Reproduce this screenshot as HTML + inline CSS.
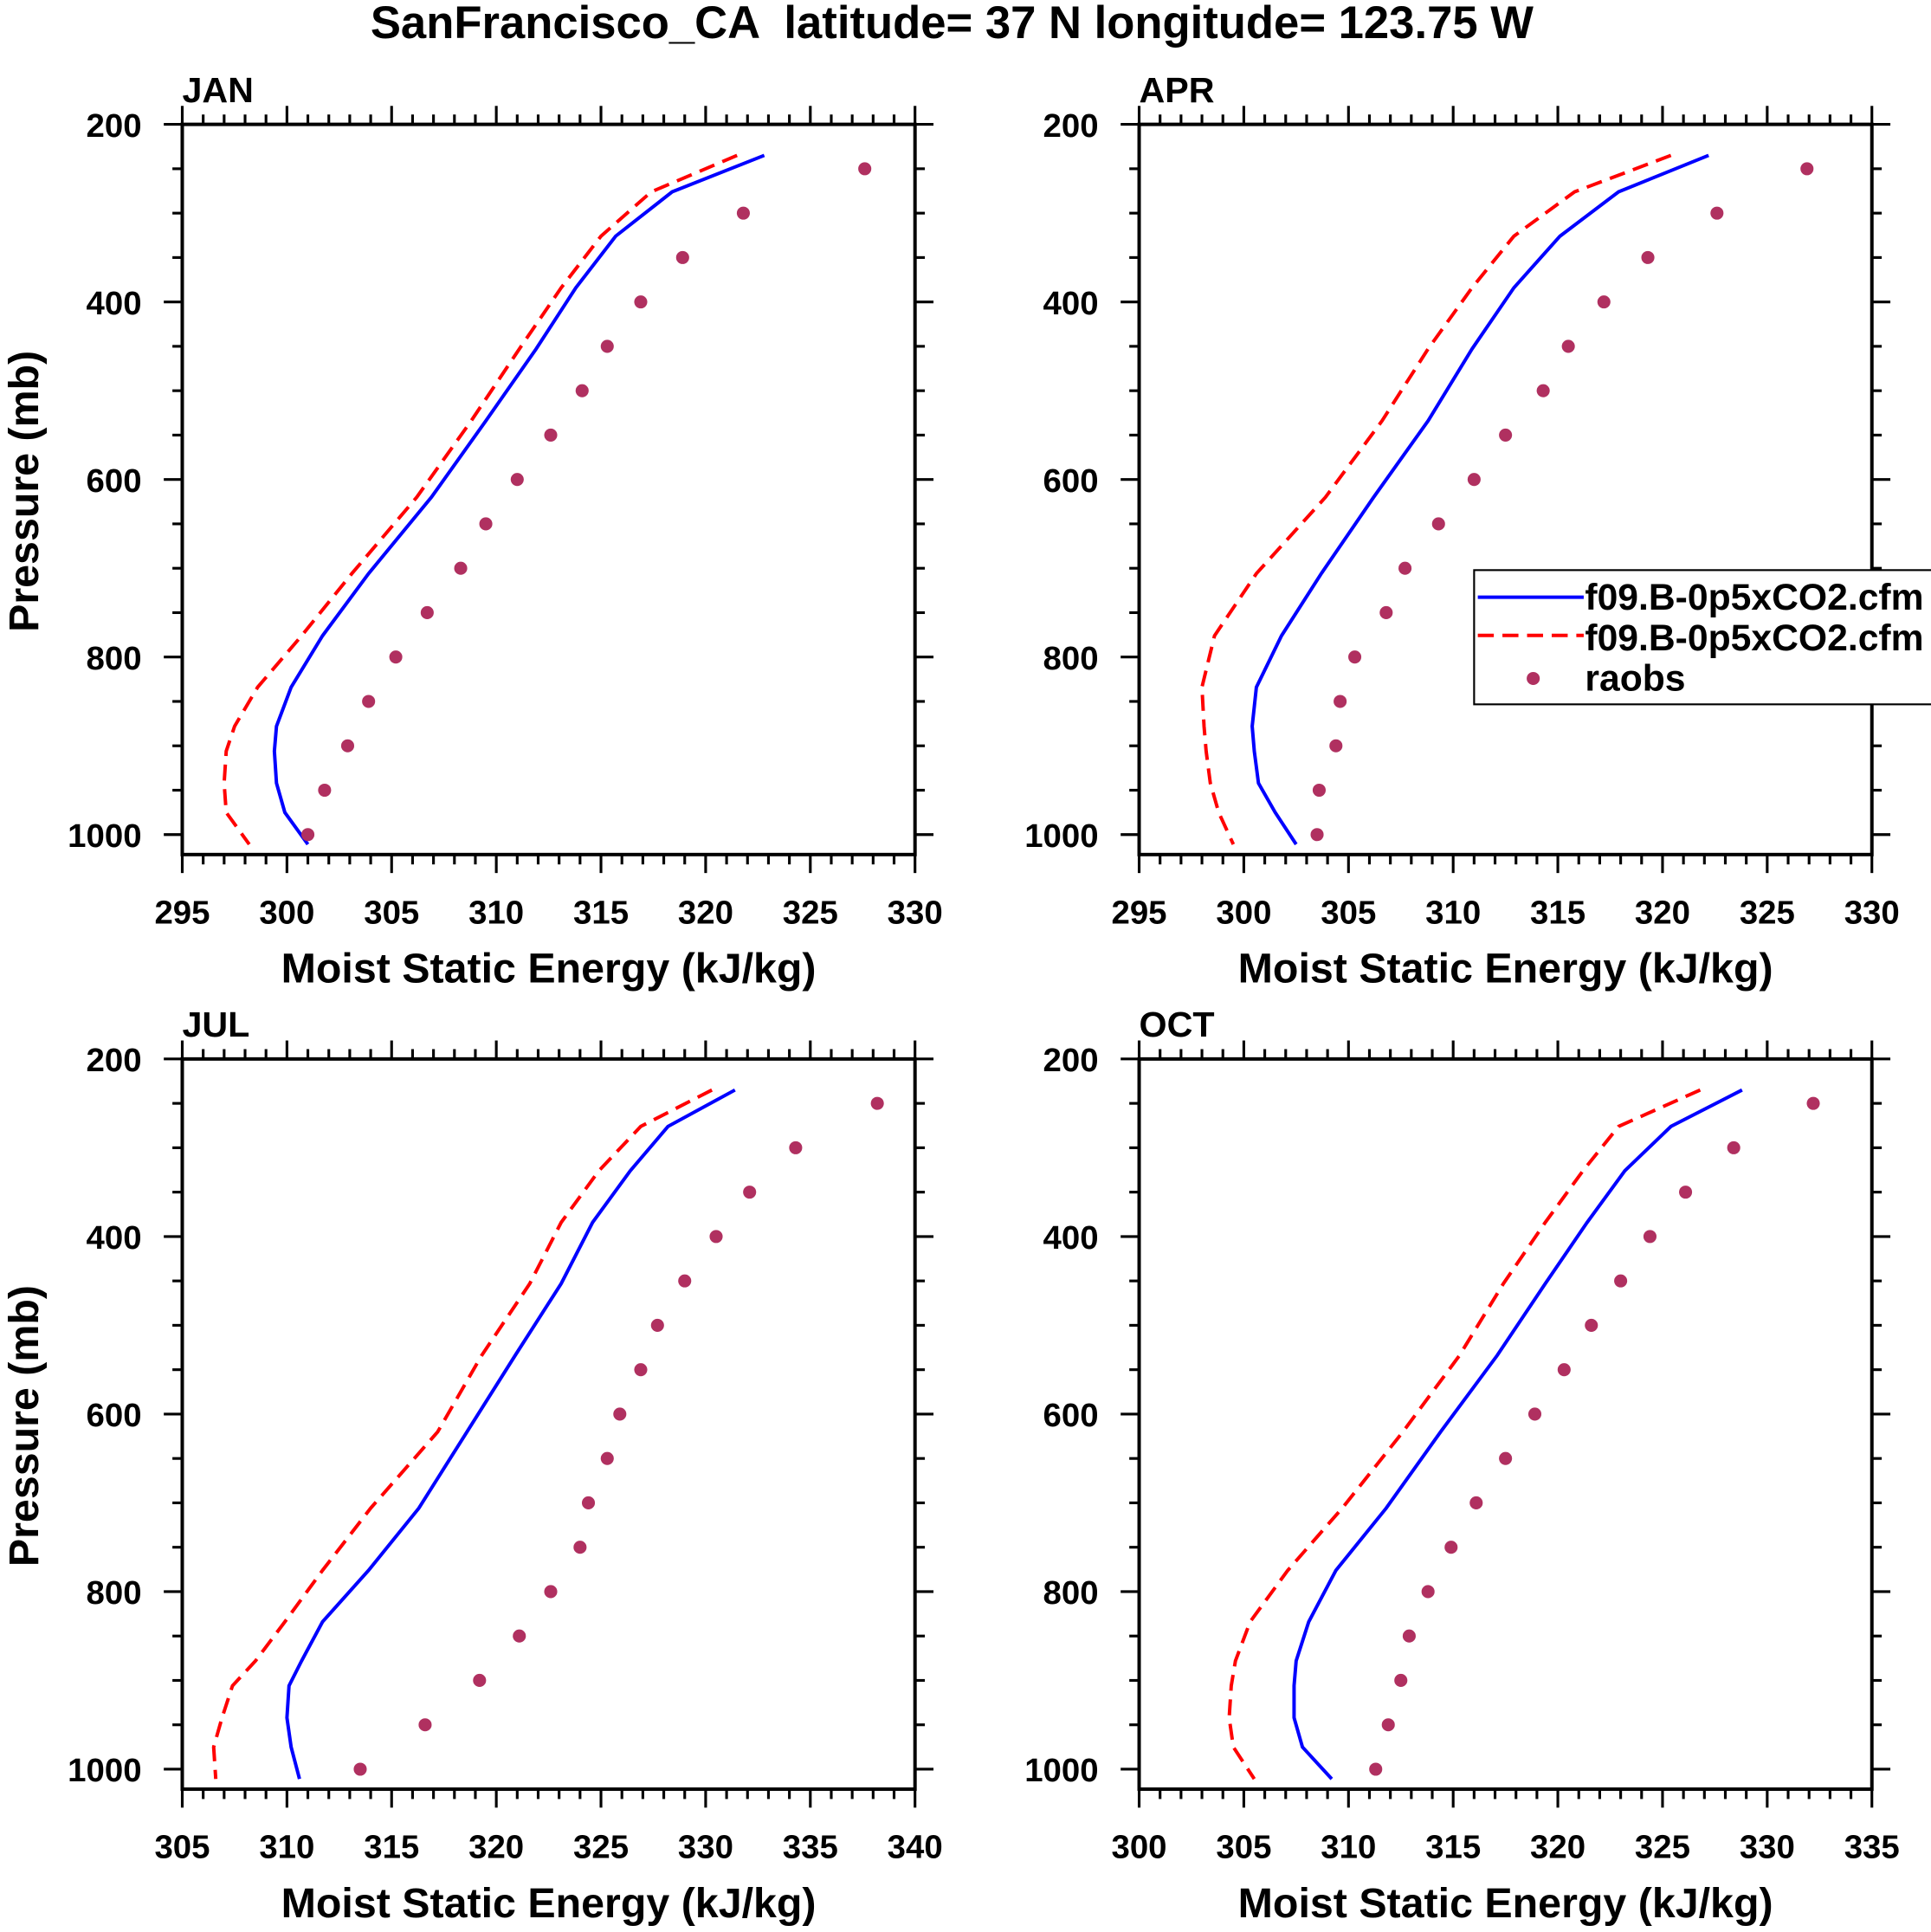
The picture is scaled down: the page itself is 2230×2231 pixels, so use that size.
<!DOCTYPE html>
<html><head><meta charset="utf-8"><style>
html,body{margin:0;padding:0;background:#fff;}
svg{display:block;}
text{font-family:"Liberation Sans",Helvetica,sans-serif;font-weight:bold;fill:#000;}
</style></head><body>
<svg id="chart" width="2230" height="2231" viewBox="0 0 1568 1569" preserveAspectRatio="none" xmlns="http://www.w3.org/2000/svg">
<text x="773" y="31" font-size="37" text-anchor="middle" xml:space="preserve">SanFrancisco_CA  latitude= 37 N longitude= 123.75 W</text>
<g id="plots"></g>
</svg>
<script>
// Data
const modelLevels = [235,276,326,384,453,534,620,706,776,834,878,906,942,975,1011];
const obsLevels = [250,300,350,400,450,500,550,600,650,700,750,800,850,900,950,1000];
const panelNames = ["JAN","APR","JUL","OCT"];
const xMins = [295,295,305,300];
const xMaxs = [330,330,340,335];
const blueJAN = [322.8,318.4,315.7,313.8,311.9,309.5,306.9,303.9,301.7,300.2,299.5,299.4,299.5,299.9,301.0];
const redJAN  = [321.5,317.4,315.0,313.1,311.1,308.8,306.2,303.1,300.7,298.6,297.5,297.1,297.0,297.1,298.2];
const obsJAN  = [327.6,321.8,318.9,316.9,315.3,314.1,312.6,311.0,309.5,308.3,306.7,305.2,303.9,302.9,301.8,301.0];
const blueAPR = [322.2,317.9,315.1,312.9,310.9,308.8,306.2,303.7,301.8,300.6,300.4,300.5,300.7,301.5,302.5];
const redAPR  = [320.4,315.8,312.9,310.9,308.8,306.6,303.9,300.6,298.6,298.0,298.1,298.2,298.4,298.8,299.5];
const obsAPR  = [326.9,322.6,319.3,317.2,315.5,314.3,312.5,311.0,309.3,307.7,306.8,305.3,304.6,304.4,303.6,303.5];
const blueJUL = [331.4,328.2,326.4,324.6,323.1,320.9,318.6,316.3,313.9,311.7,310.7,310.1,310.0,310.2,310.6];
const redJUL  = [330.3,326.9,324.9,323.1,321.6,319.3,317.2,314.0,311.7,309.9,308.5,307.4,306.9,306.5,306.6];
const obsJUL  = [338.2,334.3,332.1,330.5,329.0,327.7,326.9,325.9,325.3,324.4,324.0,322.6,321.1,319.2,316.6,313.5];
const blueOCT = [328.8,325.4,323.2,321.4,319.4,317.1,314.4,311.8,309.4,308.1,307.5,307.4,307.4,307.8,309.2];
const redOCT  = [326.8,322.9,321.2,319.4,317.4,315.3,312.6,309.7,307.1,305.3,304.6,304.4,304.3,304.5,305.5];
const obsOCT  = [332.2,328.4,326.1,324.4,323.0,321.6,320.3,318.9,317.5,316.1,314.9,313.8,312.9,312.5,311.9,311.3];
const yTicks = [200,400,600,800,1000];
const legendLabels = ["f09.B-0p5xCO2.cfm","f09.B-0p5xCO2.cfm","raobs"];

const blues=[blueJAN,blueAPR,blueJUL,blueOCT], reds=[redJAN,redAPR,redJUL,redOCT], obss=[obsJAN,obsAPR,obsJUL,obsOCT];
const NS="http://www.w3.org/2000/svg";
const root=document.getElementById("plots");
function mk(tag,attrs,parent){const e=document.createElementNS(NS,tag);for(const k in attrs)e.setAttribute(k,attrs[k]);(parent||root).appendChild(e);return e;}
const W=595,H=593,PMIN=200,PMAX=1022.5;
const origins=[[148,101],[925,101],[148,860],[925,860]];
panelNames.forEach((name,i)=>{
  const [ox,oy]=origins[i];
  const g=mk("g",{});
  
  
  const xs=v=>ox+(v-xMins[i])/(xMaxs[i]-xMins[i])*W;
  const ys=p=>oy+(p-PMIN)/(PMAX-PMIN)*H;
  for(let v=xMins[i];v<=xMaxs[i];v++){
    const maj=(v%5===0), L=maj?15:8;
    mk("line",{x1:xs(v),x2:xs(v),y1:oy+H,y2:oy+H+L,stroke:"#000","stroke-width":2.2},g);
    mk("line",{x1:xs(v),x2:xs(v),y1:oy,y2:oy-L,stroke:"#000","stroke-width":2.2},g);
    if(maj){const t=mk("text",{x:xs(v),y:oy+H+56,"font-size":27,"text-anchor":"middle"},g);t.textContent=v;
      }
  }
  for(let p=200;p<=1000;p+=50){
    const maj=(p%200===0), L=maj?15:8;
    mk("line",{x1:ox,x2:ox-L,y1:ys(p),y2:ys(p),stroke:"#000","stroke-width":2.2},g);
    mk("line",{x1:ox+W,x2:ox+W+L,y1:ys(p),y2:ys(p),stroke:"#000","stroke-width":2.2},g);
  }
  yTicks.forEach(p=>{const t=mk("text",{x:ox-33,y:ys(p)+10,"font-size":27,"text-anchor":"end"},g);t.textContent=p;
    });
  const pts=a=>a.map((v,k)=>xs(v).toFixed(1)+","+ys(modelLevels[k]).toFixed(1)).join(" ");
  const r=mk("polyline",{points:pts(reds[i]),fill:"none",stroke:"#ff0000","stroke-width":2.8,"stroke-dasharray":"13,7"},g);
  
  const b=mk("polyline",{points:pts(blues[i]),fill:"none",stroke:"#0000ff","stroke-width":2.8},g);
  
  obss[i].forEach((v,k)=>{const c=mk("circle",{cx:xs(v),cy:ys(obsLevels[k]),r:5.3,fill:"#b03060"},g);
    });
  mk("rect",{x:ox,y:oy,width:W,height:H,fill:"none",stroke:"#000","stroke-width":2.8},g);
  const pl=mk("text",{x:ox,y:oy-18,"font-size":29},g);pl.textContent=name;
  
  const xt=mk("text",{x:ox+W/2,y:oy+H+104,"font-size":34,"text-anchor":"middle"},g);xt.textContent="Moist Static Energy (kJ/kg)";
  
  if(i%2===0){const yt=mk("text",{x:0,y:0,"font-size":34,"text-anchor":"middle",transform:`translate(31,${oy+298}) rotate(-90)`},g);yt.textContent="Pressure (mb)";
    }
});
const lg=mk("g",{});


mk("rect",{x:1197,y:463,width:380,height:109,fill:"#fff",stroke:"#000","stroke-width":1.5},lg);
mk("line",{x1:1200,x2:1286,y1:485,y2:485,stroke:"#0000ff","stroke-width":2.8},lg);
mk("line",{x1:1200,x2:1286,y1:516,y2:516,stroke:"#ff0000","stroke-width":2.8,"stroke-dasharray":"13,7"},lg);
mk("circle",{cx:1245,cy:551,r:5.3,fill:"#b03060"},lg);
legendLabels.forEach((s,k)=>{const t=mk("text",{x:1287,y:495+k*33,"font-size":30},lg);t.textContent=s;
  });
</script>
</body></html>
